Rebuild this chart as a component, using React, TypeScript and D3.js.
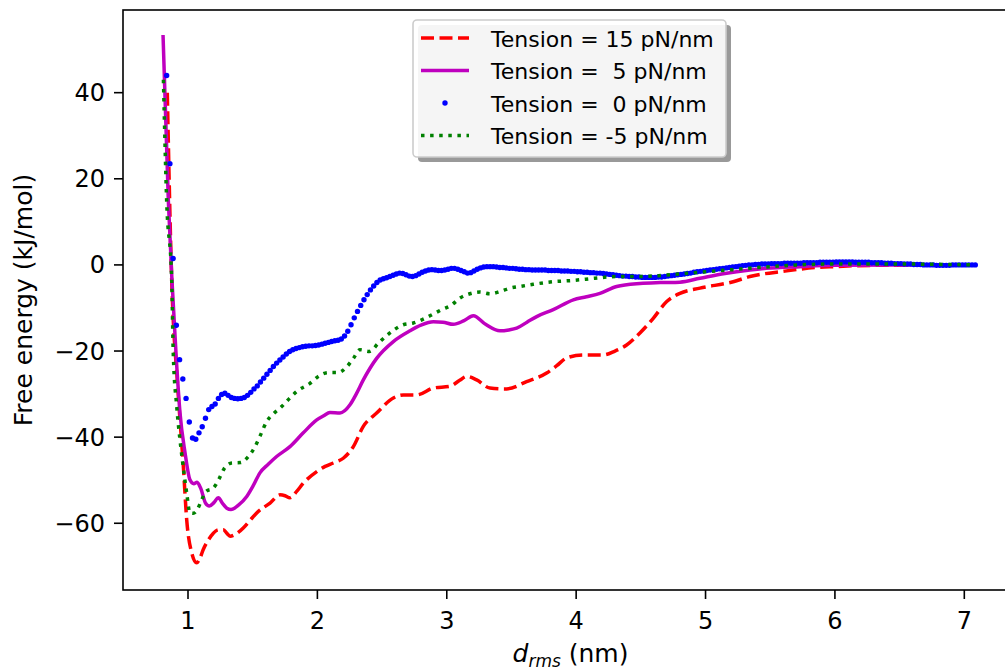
import React from "react";
import * as d3 from "d3";

// ---- Data ----
const redX = [0.84,0.874,0.92,0.964,0.99,1.029,1.067,1.09,1.118,1.155,1.196,1.235,1.273,1.3,1.325,1.37,1.427,1.48,1.531,1.634,1.711,1.75,1.788,1.84,1.891,1.995,2.06,2.123,2.2,2.278,2.355,2.458,2.587,2.664,2.767,2.896,3.025,3.1,3.154,3.231,3.334,3.463,3.617,3.772,3.85,3.927,4.055,4.21,4.3,4.39,4.493,4.596,4.7,4.802,4.957,5.214,5.343,5.6,5.858,5.987,6.3,7.08];
const redY = [40,-3.5,-28,-46.8,-59.2,-66.9,-69.2,-68.3,-66.1,-64,-62.3,-61.5,-61.5,-62.3,-63,-62.5,-61.1,-59.3,-57.6,-55.3,-53.4,-53.6,-54.1,-52.6,-50.7,-48,-46.8,-46,-44.9,-42.2,-37.5,-34.4,-30.9,-30.2,-30.2,-28.6,-28.2,-26.8,-25.9,-26.7,-28.6,-28.8,-27.1,-25.1,-23.4,-21.6,-20.9,-20.9,-20,-18.6,-15.8,-12.4,-8.5,-6.6,-5.4,-3.9,-2.7,-1.5,-0.6,-0.4,-0.1,0];

const magX = [0.807,0.848,0.876,0.91,0.938,0.977,1.015,1.045,1.07,1.1,1.135,1.165,1.2,1.234,1.27,1.3,1.332,1.39,1.454,1.5,1.556,1.62,1.685,1.788,1.891,1.995,2.05,2.097,2.175,2.252,2.3,2.355,2.458,2.587,2.716,2.8,2.896,2.97,3.05,3.13,3.205,3.3,3.411,3.48,3.54,3.62,3.695,3.823,3.978,4.08,4.184,4.313,4.493,4.65,4.802,4.957,5.15,5.343,5.47,5.73,6.0,6.5,7.08];
const magY = [53.4,15,-3.5,-22,-34.3,-43.6,-49.9,-50.8,-50.5,-52,-55.3,-56,-55.2,-54.1,-55.5,-56.5,-56.8,-55.8,-53.8,-51.5,-48.3,-46.3,-44.5,-42.2,-39,-36,-35,-34.3,-34.4,-32.5,-30,-26.7,-21.7,-17.8,-15.3,-14,-13.2,-13.3,-13.8,-13,-11.8,-13.8,-15.3,-15.1,-14.7,-13.3,-12,-10.4,-8.1,-7.4,-6.6,-5,-4.3,-4.1,-4.0,-3.1,-2.0,-1.2,-0.8,-0.4,-0.1,0,0];

// blue series sampled every 0.025 nm starting at 0.835 nm
const blueStart = 0.835;
const blueStep = 0.025;
const blueY = [
44,23.5,1.5,-14,-22,-26.5,-31,-36.5,-40.2,-40.5,
-39,-37.6,-35.6,-33.6,-32.9,-32.3,-31,-30.1,-29.8,-30.3,
-30.8,-31,-31.1,-31,-30.8,-30.3,-29.6,-28.8,-28.1,-27.2,
-26.3,-25.4,-24.5,-23.6,-22.8,-22.1,-21.4,-20.7,-20.1,-19.7,
-19.4,-19.2,-19,-18.9,-18.8,-18.8,-18.7,-18.6,-18.4,-18.2,
-18,-17.8,-17.6,-17.5,-17.2,-16.5,-15.4,-13.9,-12.3,-10.8,
-9.4,-8.1,-6.9,-5.8,-4.9,-4.1,-3.5,-3.2,-3.0,-2.7,
-2.4,-2.1,-1.9,-2.0,-2.3,-2.6,-2.7,-2.5,-2.1,-1.7,
-1.4,-1.2,-1.1,-1.2,-1.3,-1.3,-1.2,-1.0,-0.8,-0.8,
-1.0,-1.3,-1.6,-1.9,-1.8,-1.4,-1.0,-0.7,-0.5,-0.4,
-0.4,-0.4,-0.5,-0.6,-0.6,-0.7,-0.8,-0.8,-0.9,-1.0,
-1.0,-1.1,-1.1,-1.2,-1.2,-1.2,-1.2,-1.2,-1.3,-1.3,
-1.3,-1.3,-1.4,-1.4,-1.4,-1.5,-1.5,-1.6,-1.6,-1.7,
-1.7,-1.8,-1.8,-1.9,-1.9,-2.0,-2.1,-2.2,-2.3,-2.4,
-2.5,-2.6,-2.6,-2.7,-2.7,-2.8,-2.8,-2.9,-2.9,-2.9,
-2.9,-2.9,-2.8,-2.8,-2.7,-2.6,-2.5,-2.4,-2.3,-2.2,
-2.1,-2.0,-1.9,-1.7,-1.6,-1.5,-1.4,-1.3,-1.2,-1.1,
-1.0,-0.9,-0.8,-0.7,-0.6,-0.5,-0.4,-0.3,-0.2,-0.1,
0.0,0.0,0.1,0.1,0.2,0.2,0.2,0.3,0.3,0.3,
0.3,0.4,0.4,0.4,0.4,0.4,0.4,0.5,0.5,0.5,
0.5,0.5,0.6,0.6,0.6,0.6,0.6,0.7,0.7,0.7,
0.7,0.7,0.7,0.6,0.6,0.6,0.6,0.6,0.5,0.5,
0.5,0.5,0.4,0.4,0.4,0.3,0.3,0.3,0.2,0.2,
0.2,0.1,0.1,0.1,0.0,0.0,0.0,0.0,-0.1,-0.1,
-0.1,-0.1,-0.1,0.0,0.0,0.0,0.0,0.0,0.0,0.0,
0.0
];

const greenX = [0.81,0.835,0.874,0.886,0.913,0.938,0.956,0.99,1.015,1.04,1.072,1.1,1.139,1.196,1.24,1.278,1.338,1.407,1.466,1.518,1.556,1.608,1.659,1.724,1.788,1.84,1.943,2.007,2.084,2.162,2.226,2.278,2.329,2.401,2.471,2.528,2.587,2.664,2.741,2.818,2.896,2.961,3.038,3.102,3.179,3.256,3.334,3.411,3.488,3.566,3.668,3.823,3.978,4.145,4.313,4.468,4.635,4.802,4.957,5.21,5.292,5.6,5.98,6.5,7.08];
const greenY = [43,15,-3.5,-20.5,-32.9,-40.6,-45.2,-53,-57.6,-57.7,-56.8,-55,-52.6,-51.8,-49.7,-47.4,-46,-45.9,-44.5,-42.2,-39.8,-36.4,-34.6,-32.9,-30.9,-29.4,-27.5,-25.9,-25,-25,-23.7,-21.7,-19.7,-20.1,-18.2,-16.6,-15.2,-13.9,-13.5,-12.6,-11.4,-10.4,-9.3,-7.7,-6.7,-6.3,-6.7,-6.2,-5.4,-5,-4.5,-3.9,-3.6,-3.1,-2.7,-2.7,-2.5,-2.1,-1.7,-1.1,-0.9,-0.2,0.2,0.2,0];

const xTicks = [1, 2, 3, 4, 5, 6, 7];
const yTicks = [-60, -40, -20, 0, 20, 40];
const legendLabels = ["Tension = 15 pN/nm", "Tension =  5 pN/nm", "Tension =  0 pN/nm", "Tension = -5 pN/nm"];

const xDomain = [0.4976, 7.415];
const yDomain = [-75.5, 59.2];

const W = 1005, H = 669;
const L = 123, R = 1018, T = 10, B = 590;
const FONT = "DejaVu Sans";

export default function App() {
  const x = d3.scaleLinear().domain(xDomain).range([L, R]);
  const y = d3.scaleLinear().domain(yDomain).range([B, T]);

  const zip = (xs: number[], ys: number[]) => xs.map((v, i) => [v, ys[i]] as [number, number]);
  const line = d3.line<[number, number]>().x(d => x(d[0])).y(d => y(d[1])).curve(d3.curveMonotoneX);

  const red = zip(redX, redY);
  const mag = zip(magX, magY);
  const green = zip(greenX, greenY);
  const blue = blueY.map((v, i) => [blueStart + i * blueStep, v] as [number, number]);

  const colors = ["#ff0000", "#bf00bf", "#0000ff", "#008000"];
  const lw = 3.5;

  const legX = 413, legY = 20, legW = 313, legH = 137;
  const rowY = [38, 70.5, 103, 135.5];

  return (
    <svg width={W} height={H} style={{ position: "absolute", left: 0, top: 0, background: "#fff" }} fontFamily={FONT}>
      <defs>
        <clipPath id="plotclip">
          <rect x={L} y={T} width={R - L} height={B - T} />
        </clipPath>
      </defs>
      <rect x={0} y={0} width={W} height={H} fill="#fff" />
      <g clipPath="url(#plotclip)">
        <path d={line(red) || ""} fill="none" stroke={colors[0]} strokeWidth={lw} strokeDasharray="13 5.5" />
        <path d={line(mag) || ""} fill="none" stroke={colors[1]} strokeWidth={lw} />
        {blue.map((d, i) => (
          <circle key={i} cx={x(d[0])} cy={y(d[1])} r={2.7} fill={colors[2]} />
        ))}
        <path d={line(green) || ""} fill="none" stroke={colors[3]} strokeWidth={lw} strokeDasharray="3.5 5.6" />
      </g>
      {/* frame */}
      <rect x={L} y={T} width={R - L} height={B - T} fill="none" stroke="#000" strokeWidth={1.6} />
      {/* x ticks */}
      {xTicks.map(t => (
        <g key={t}>
          <line x1={x(t)} x2={x(t)} y1={B} y2={B + 9} stroke="#000" strokeWidth={1.6} />
          <text x={x(t)} y={B + 39} fontSize={24} textAnchor="middle">{String(t)}</text>
        </g>
      ))}
      {/* y ticks */}
      {yTicks.map(t => (
        <g key={t}>
          <line x1={L - 9} x2={L} y1={y(t)} y2={y(t)} stroke="#000" strokeWidth={1.6} />
          <text x={L - 18} y={y(t) + 8.5} fontSize={24} textAnchor="end">{t < 0 ? "\u2212" + Math.abs(t) : String(t)}</text>
        </g>
      ))}
      {/* axis labels */}
      <text x={(L + R) / 2} y={662} fontSize={25} textAnchor="middle">
        <tspan fontStyle="italic">d</tspan>
        <tspan fontStyle="italic" fontSize={17} dy={5}>rms</tspan>
        <tspan dy={-5} style={{ whiteSpace: "pre" }}> (nm)</tspan>
      </text>
      <text transform={`translate(32,${(T + B) / 2}) rotate(-90)`} fontSize={25} textAnchor="middle">Free energy (kJ/mol)</text>
      {/* legend */}
      <rect x={legX + 5} y={legY + 5} width={legW} height={legH} rx={4} fill="#999" />
      <rect x={legX} y={legY} width={legW} height={legH} rx={4} fill="#fff" fillOpacity={0.9} stroke="#cccccc" strokeWidth={1.6} />
      {legendLabels.map((lab, i) => (
        <g key={i}>
          {i === 2 ? (
            <circle cx={445} cy={rowY[i]} r={2.7} fill={colors[i]} />
          ) : (
            <line x1={421} x2={469} y1={rowY[i]} y2={rowY[i]} stroke={colors[i]} strokeWidth={lw}
              strokeDasharray={i === 0 ? "13 5.5" : i === 3 ? "3.5 5.6" : undefined} />
          )}
          <text x={491} y={rowY[i] + 8.5} fontSize={22} style={{ whiteSpace: "pre" }}>{lab}</text>
        </g>
      ))}
    </svg>
  );
}
